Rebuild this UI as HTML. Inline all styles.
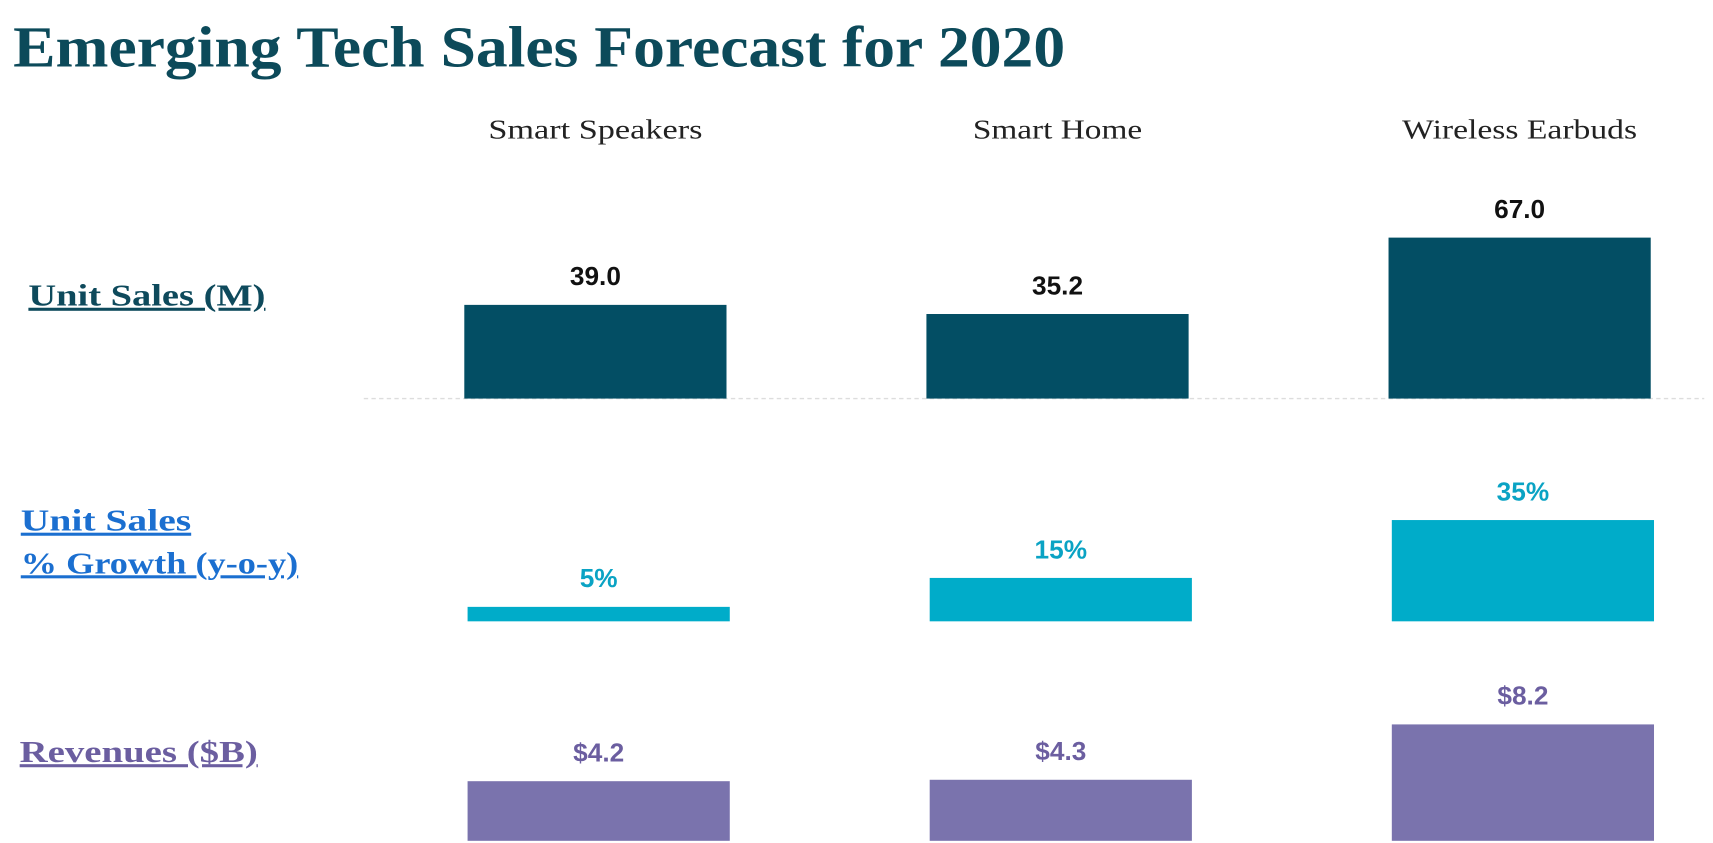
<!DOCTYPE html>
<html><head><meta charset="utf-8"><style>
html,body{margin:0;padding:0;background:#fff;width:1713px;height:843px;overflow:hidden}
svg{display:block}
</style></head><body>
<svg id="chart" width="1713" height="843" viewBox="0 0 1568 772" preserveAspectRatio="none" xmlns="http://www.w3.org/2000/svg">
<text x="12" y="61" font-family="'Liberation Serif',serif" font-weight="bold" font-size="53" fill="#0c4a5a" textLength="963" lengthAdjust="spacingAndGlyphs">Emerging Tech Sales Forecast for 2020</text>
<line x1="333" y1="365" x2="1560" y2="365" stroke="#ddd" stroke-width="1.2" stroke-dasharray="4,3"/>
<text x="26" y="280" font-family="'Liberation Serif',serif" font-weight="bold" font-size="28" fill="#0e4a5c" text-decoration="underline" textLength="217" lengthAdjust="spacingAndGlyphs">Unit Sales (M)</text>
<text x="19" y="486" font-family="'Liberation Serif',serif" font-weight="bold" font-size="28" fill="#1b6fd0" text-decoration="underline" textLength="156" lengthAdjust="spacingAndGlyphs">Unit Sales</text>
<text x="19" y="525" font-family="'Liberation Serif',serif" font-weight="bold" font-size="28" fill="#1b6fd0" text-decoration="underline" textLength="254" lengthAdjust="spacingAndGlyphs">% Growth (y-o-y)</text>
<text x="18" y="698" font-family="'Liberation Serif',serif" font-weight="bold" font-size="28" fill="#6b5ea0" text-decoration="underline" textLength="218" lengthAdjust="spacingAndGlyphs">Revenues ($B)</text>
<g id="marks"></g>
</svg>
<script>
const categories = ["Smart Speakers", "Smart Home", "Wireless Earbuds"];
const unitSales = [39.0, 35.2, 67.0];
const unitLabels = ["39.0", "35.2", "67.0"];
const growth = [5, 15, 35];
const growthLabels = ["5%", "15%", "35%"];
const revenues = [4.2, 4.3, 8.2];
const revenueLabels = ["$4.2", "$4.3", "$8.2"];

const NS = "http://www.w3.org/2000/svg";
const g = document.getElementById("marks");
const xCenter = i => 545 + i * 423;
const barW = 240;
const headerW = [196, 155, 215];
const yUnits = v => 365 - v * 2.2;
const yGrowth = v => 569 - v * 2.65;
const yRev = v => 770 - v * 13;

function mk(tag, attrs, text) {
  const e = document.createElementNS(NS, tag);
  for (const k in attrs) e.setAttribute(k, attrs[k]);
  if (text !== undefined) e.textContent = text;
  g.appendChild(e);
  return e;
}
categories.forEach((c, i) => {
  const t = mk("text", {x: xCenter(i) - headerW[i] / 2, y: 127, "font-family": "'Liberation Serif',serif", "font-size": 25, fill: "#222", textLength: headerW[i], lengthAdjust: "spacingAndGlyphs"}, c);
  
  
});
function series(vals, labels, yf, base, color, labelColor, name, dx) {
  vals.forEach((v, i) => {
    const top = yf(v);
    const r = mk("rect", {x: xCenter(i) - barW / 2 + dx, y: top, width: barW, height: base - top, fill: color});
    
    
    const t = mk("text", {x: xCenter(i) + dx, y: top - 18, "text-anchor": "middle", "font-family": "'Liberation Sans',sans-serif", "font-weight": "bold", "font-size": 24, fill: labelColor}, labels[i]);
    
    
  });
}
series(unitSales, unitLabels, yUnits, 365, "#034e64", "#111", "unit-sales", 0);
series(growth, growthLabels, yGrowth, 569, "#00acc9", "#0aa3c4", "growth", 3);
series(revenues, revenueLabels, yRev, 770, "#7a73ad", "#6b5ea0", "revenue", 3);
</script>
</body></html>
